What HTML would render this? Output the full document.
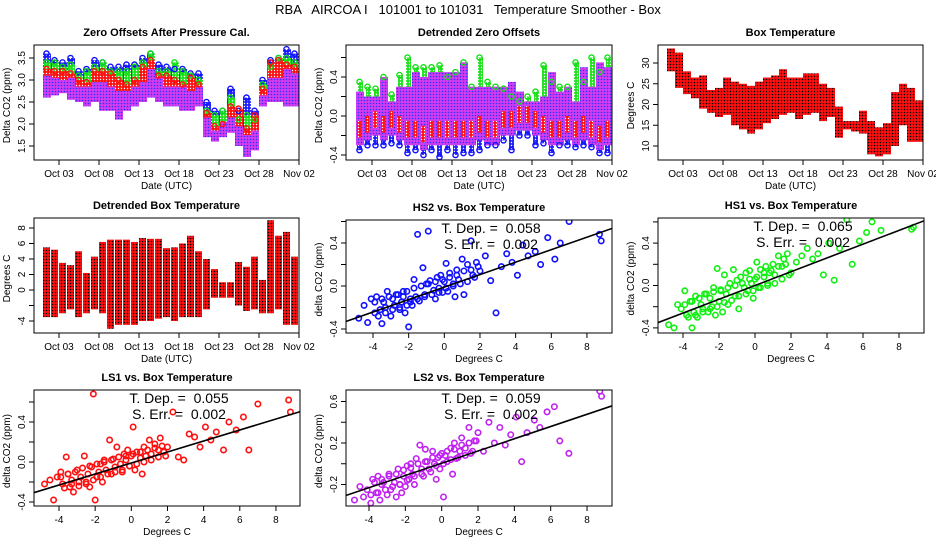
<!DOCTYPE html>
<html><head><meta charset="utf-8"><style>
html,body{margin:0;padding:0;background:#fff;}
svg{display:block;font-family:"Liberation Sans",sans-serif;}
svg text{white-space:pre;}
.t{font-size:11px;font-weight:bold;}
.a{font-size:10px;}
</style></head><body>
<svg id="c" width="936" height="540" viewBox="0 0 936 540">
<defs>
<pattern id="pp" width="3" height="3" patternUnits="userSpaceOnUse"><rect width="3" height="3" fill="#d33cf0"/><circle cx="1.5" cy="1.5" r="0.8" fill="#3030ff"/></pattern>
<pattern id="pb" width="3" height="3" patternUnits="userSpaceOnUse"><rect width="3" height="3" fill="#2020ff"/><circle cx="1.5" cy="1.5" r="0.7" fill="#fff"/></pattern>
<pattern id="pg" width="3" height="3" patternUnits="userSpaceOnUse"><rect width="3" height="3" fill="#20e020"/><circle cx="1.5" cy="1.5" r="0.7" fill="#fff"/></pattern>
<pattern id="pr" width="3" height="3" patternUnits="userSpaceOnUse"><rect width="3" height="3" fill="#ff1010"/><circle cx="1.5" cy="1.5" r="0.7" fill="#fff"/></pattern>
<pattern id="pt" width="3" height="3" patternUnits="userSpaceOnUse"><rect width="3" height="3" fill="#ff1010"/><circle cx="1.5" cy="1.5" r="0.8" fill="#000"/></pattern>
</defs>
<text x="468" y="14" text-anchor="middle" font-size="13">RBA   AIRCOA I   101001 to 101031   Temperature Smoother - Box</text>
</svg>
<script>
// ---- data ----
const timeTicks = ["Oct 03","Oct 08","Oct 13","Oct 18","Oct 23","Oct 28","Nov 02"];
const zoPurpleLo = [2.6,2.65,2.7,2.55,2.5,2.4,2.5,2.3,2.3,2.1,2.3,2.4,2.5,2.6,2.5,2.4,2.4,2.3,2.3,2.4,1.7,1.6,1.7,1.8,1.5,1.25,1.4,2.4,2.5,2.5,2.4,2.4];
const zoPurpleHi = [3.25,3.2,3.15,3.2,3.0,3.0,3.1,3.1,3.0,2.9,2.9,3.0,3.1,3.4,3.2,3.0,3.0,3.0,2.9,3.0,2.3,2.0,2.2,2.3,2.1,1.9,2.0,2.8,3.2,3.2,3.4,3.3];
const zoBlueHi = [3.6,3.45,3.4,3.5,3.2,3.25,3.45,3.4,3.3,3.3,3.35,3.35,3.5,3.6,3.35,3.3,3.25,3.25,3.15,3.15,2.5,2.3,2.3,2.8,2.3,2.6,2.3,3.0,3.45,3.5,3.7,3.6];
const zoGreenHi = [3.4,3.4,3.3,3.35,3.1,3.2,3.3,3.4,3.2,3.2,3.2,3.3,3.4,3.6,3.2,3.2,3.4,3.2,3.1,3.0,2.3,2.2,2.3,2.6,2.1,2.2,2.1,2.9,3.3,3.5,3.5,3.4];
const zoRedHi = [3.25,3.2,3.2,3.15,3.0,2.95,3.2,3.2,3.15,3.0,2.9,3.0,3.3,3.45,3.1,3.1,3.0,2.9,3.05,2.9,2.25,1.95,2.0,2.4,2.35,1.9,2.2,2.8,3.4,3.45,3.35,3.3];
const dzLo = [-0.3,-0.25,-0.2,-0.25,-0.2,-0.25,-0.3,-0.3,-0.35,-0.3,-0.3,-0.3,-0.3,-0.3,-0.3,-0.25,-0.3,-0.3,-0.2,-0.2,-0.15,-0.15,-0.2,-0.25,-0.3,-0.3,-0.25,-0.3,-0.25,-0.3,-0.35,-0.3];
const dzHi = [0.25,0.2,0.2,0.4,0.15,0.3,0.3,0.45,0.4,0.45,0.45,0.45,0.45,0.55,0.3,0.3,0.3,0.3,0.3,0.35,0.25,0.15,0.15,0.2,0.45,0.25,0.3,0.15,0.5,0.3,0.55,0.5];
const dzGreenExt = [0.35,0.3,0.28,0.4,0.22,0.42,0.6,0.5,0.5,0.5,0.52,0.4,0.45,0.55,0.3,0.6,0.35,0.3,0.28,0.2,0.15,0.2,0.25,0.52,0.35,0.3,0.3,0.55,0.35,0.6,0.45,0.6];
const dzBlueLow = [-0.35,-0.3,-0.3,-0.3,-0.28,-0.3,-0.38,-0.35,-0.4,-0.35,-0.42,-0.35,-0.4,-0.38,-0.38,-0.35,-0.3,-0.3,-0.25,-0.35,-0.2,-0.2,-0.3,-0.28,-0.38,-0.3,-0.3,-0.32,-0.3,-0.32,-0.38,-0.38];
const btLo = [28,24,22.5,21.5,19,18,17,17.5,15,14,13,14,15.5,16.5,17.5,18,16.5,17.5,18,16,17,12,14,13.5,13,8,7.5,8,10,15,11,11];
const btHi = [33.5,32.5,28,26.5,27,23.5,24,26.5,25.5,25,24.5,25.5,26.5,27,28.5,26.5,26.5,27.5,27.5,25,24,19.5,16,16,18.5,16,14.5,15.5,23,25,24,21];
const dbLo = [-3.5,-3.5,-3,-2.5,-3.5,-3,-2.5,-3,-5,-4.5,-4.5,-4.5,-4,-4,-3.7,-3.5,-4,-3.5,-3.5,-3.5,-2.5,-1,-1,-1,-2,-2.7,-2.5,-3,-3,-2.5,-4.5,-4.5];
const dbHi = [5.5,5.2,3.5,3.2,5,2.2,4.3,6.2,6.5,6.5,6.5,6.2,6.7,6.6,6.6,5.4,5.5,6,7,5,4,2.7,1,1,3.6,3,4.3,1.3,9,7,7.5,4.3];
const temps = [-4.8,-4.5,-4.3,-4.1,-3.9,-3.8,-3.6,-3.5,-3.4,-3.3,-3.2,-3.0,-2.9,-2.8,-2.6,-2.5,-2.4,-2.3,-2.2,-2.1,-2.0,-1.9,-1.8,-1.7,-1.6,-1.5,-1.4,-1.2,-1.1,-1.0,-0.9,-0.8,-0.6,-0.5,-0.4,-0.3,-0.2,-0.1,0.0,0.1,0.2,0.3,0.5,0.6,0.7,0.8,1.0,1.1,1.3,1.5,1.6,1.8,2.0,2.3,2.6,2.9,3.2,3.5,3.8,4.1,4.4,4.7,5.1,5.4,5.8,6.2,6.5,7.0,8.7,8.8];
const tempsB = [-3.9,-3.7,-3.5,-3.3,-3.1,-2.9,-2.7,-2.5,-2.3,-2.1,-1.9,-1.7,-1.5,-1.3,-1.1,-0.9,-0.7,-0.5,-0.3,-0.1,0.1,0.3,0.5,0.7,0.9,1.1,1.3,1.5,1.7,1.9];
const hs2 = [-0.30,-0.18,-0.34,-0.12,-0.25,-0.10,-0.22,-0.35,-0.15,-0.20,-0.05,-0.28,-0.12,-0.18,-0.08,-0.22,-0.15,-0.10,-0.25,-0.05,-0.38,-0.12,-0.18,0.06,-0.10,0.48,-0.14,0.17,-0.08,0.02,0.51,0.05,-0.04,-0.12,0.08,-0.02,0.10,-0.06,0.04,0.21,-0.05,0.12,0.02,-0.10,0.15,0.06,0.25,-0.08,0.20,0.42,0.10,0.22,0.14,0.28,0.05,-0.25,0.18,0.30,0.22,0.10,0.38,0.28,0.32,0.20,0.45,0.25,0.40,0.60,0.48,0.42];
const hs2B = [-0.15,-0.28,-0.12,-0.25,-0.10,-0.22,-0.08,-0.20,-0.05,-0.18,-0.15,-0.02,-0.12,0.00,-0.10,0.02,-0.08,0.04,-0.06,0.06,-0.02,0.08,0.00,0.10,0.02,0.14,0.04,0.15,0.08,0.18];
const hs1 = [-0.37,-0.40,-0.18,-0.22,-0.05,-0.28,-0.15,-0.40,-0.25,-0.10,-0.30,-0.18,-0.22,-0.08,-0.25,-0.12,-0.20,-0.02,-0.28,0.16,-0.15,-0.05,-0.25,0.10,-0.08,-0.18,0.02,0.15,-0.10,0.05,-0.22,0.08,-0.02,0.12,-0.05,0.14,0.02,-0.12,0.06,0.22,-0.02,0.15,0.08,0.18,0.02,0.12,0.20,0.10,0.28,0.18,0.25,0.30,0.12,0.22,0.28,0.35,0.25,0.30,0.10,0.40,0.05,0.35,0.62,0.20,0.42,0.50,0.60,0.52,0.53,0.55];
const hs1B = [-0.18,-0.30,-0.15,-0.28,-0.12,-0.25,-0.08,-0.22,-0.06,-0.20,-0.04,-0.16,-0.02,-0.14,0.00,-0.10,0.02,-0.08,0.06,-0.05,0.08,-0.02,0.12,0.00,0.14,0.02,0.18,0.06,0.20,0.10];
const ls1 = [-0.22,-0.18,-0.38,-0.15,-0.10,-0.22,0.05,-0.12,-0.25,-0.18,-0.30,-0.08,-0.20,-0.15,0.06,-0.22,-0.12,-0.25,-0.05,0.68,-0.38,-0.15,-0.10,-0.02,-0.20,0.02,-0.08,0.22,-0.12,0.03,-0.05,0.15,-0.02,-0.10,0.08,0.02,0.12,-0.04,0.06,0.35,-0.08,0.10,0.04,-0.12,0.15,0.06,0.22,0.08,0.18,0.12,0.24,0.10,0.15,0.50,0.05,0.02,0.28,0.25,0.15,0.35,0.22,0.30,0.12,0.40,0.32,0.45,0.12,0.58,0.62,0.50];
const ls1B = [-0.15,-0.26,-0.12,-0.22,-0.10,-0.24,-0.06,-0.20,-0.04,-0.18,-0.02,-0.15,0.00,-0.12,0.02,-0.10,0.05,-0.08,0.06,-0.04,0.08,-0.02,0.10,0.00,0.12,0.02,0.14,0.05,0.16,0.06];
const ls2 = [-0.35,-0.22,-0.32,-0.25,-0.38,-0.15,-0.28,-0.12,-0.35,-0.20,-0.18,-0.30,-0.10,-0.25,-0.18,-0.32,-0.05,-0.20,-0.28,-0.12,-0.22,-0.02,-0.15,0.00,-0.10,-0.20,0.05,0.18,-0.05,-0.12,0.14,0.02,-0.08,0.12,0.00,-0.15,0.06,-0.05,0.10,-0.32,0.08,0.02,0.15,-0.10,0.20,0.05,0.12,0.25,0.15,0.35,0.10,0.22,0.30,0.12,0.40,0.20,0.35,0.18,0.28,0.45,0.02,0.30,0.42,0.35,0.50,0.55,0.22,0.10,0.70,0.65];
const ls2B = [-0.30,-0.18,-0.28,-0.15,-0.25,-0.12,-0.22,-0.10,-0.20,-0.06,-0.16,-0.04,-0.12,0.00,-0.10,0.02,-0.05,0.06,-0.02,0.08,0.00,0.12,0.04,0.14,0.06,0.18,0.08,0.20,0.12,0.22];
const tempDeps = ["0.058","0.065","0.055","0.059"];
const stdErrs = ["0.002","0.002","0.002","0.002"];
const slopes = [0.058,0.065,0.055,0.059];
const intercepts = [-0.01,0.0,-0.01,0.005];
const scatterTicks = [-4,-2,0,2,4,6,8];

// ---- drawing ----
const svg = document.getElementById('c');
const NS = 'http://www.w3.org/2000/svg';
function mk(tag, attrs, parent){const e=document.createElementNS(NS,tag);for(const k in attrs)e.setAttribute(k,attrs[k]);(parent||svg).appendChild(e);return e;}
function txt(x,y,s,cls,anchor,rot,parent){const e=mk('text',{x:x,y:y,'text-anchor':anchor||'middle',class:cls||'a'},parent);if(rot)e.setAttribute('transform','rotate(-90 '+x+' '+y+')');e.textContent=s;return e;}

function frame(p){
  const g=mk('g',{});
  
  
  const pl=mk('g',{},g);
  
  
  const cp='cp'+Math.round(p.x0)+'_'+Math.round(p.y0);
  const cl=mk('clipPath',{id:cp},svg);mk('rect',{x:p.x0,y:p.y0,width:p.x1-p.x0,height:p.y1-p.y0},cl);
  pl.setAttribute('clip-path','url(#'+cp+')');
  const r=mk('rect',{x:p.x0,y:p.y0,width:p.x1-p.x0,height:p.y1-p.y0,fill:'none',stroke:'#000','stroke-width':1},g);
  
  
  const t=txt((p.x0+p.x1)/2,p.y0-9,p.title,'t','middle',false,g);
  
  
  const xl=txt((p.x0+p.x1)/2,p.y1+29,p.xlab,'a','middle',false,g);
  
  
  const yl=txt(p.x0-24,(p.y0+p.y1)/2+3,p.ylab,'a','middle',true,g);
  
  
  p.xt.forEach(function(t){const x=p.fx(t.v);
    mk('line',{x1:x,x2:x,y1:p.y1,y2:p.y1+5,stroke:'#000'},g);
    const l=txt(x,p.y1+17,t.l,'a','middle',false,g);
    
    });
  p.yt.forEach(function(t){const y=p.fy(t.v);
    mk('line',{x1:p.x0-5,x2:p.x0,y1:y,y2:y,stroke:'#000'},g);
    if(t.l){const l=txt(p.x0-9,y,t.l,'a','middle',true,g);
    
    }});
  return pl;
}
function fmt(v,d){return v.toFixed(d);}
function timeXt(){return timeTicks.map(function(l,i){return {v:3+5*i,l:l};});}
function dayX(x0,d){return x0+(d-1)*8;}
function bands(g,fx,fy,lo,hi,fill,name,off,w){
  lo.forEach(function(v,i){const x=fx(i+1)+(off||0);const ya=fy(hi[i]),yb=fy(v);
    const r=mk('rect',{x:x,y:Math.min(ya,yb),width:w||6,height:Math.abs(yb-ya),fill:fill,stroke:'none'},g);
    
    });
}
function rings(g,fx,fy,vals,color,name){
  vals.forEach(function(v,i){const c=mk('circle',{cx:fx(i+1)+3.5,cy:fy(v),r:2.6,fill:'none',stroke:color,'stroke-width':1.4},g);
    
    });
}

// Panel 1
(function(){
  const fx=function(d){return dayX(43,d);}; const fy=function(v){return 58+(3.5-v)*44;};
  const p={name:'zero-offsets-panel',x0:34,x1:299,y0:45,y1:160,title:'Zero Offsets After Pressure Cal.',xlab:'Date (UTC)',ylab:'Delta CO2 (ppm)',fx:fx,fy:fy,
    xt:timeXt(),yt:[1.5,2,2.5,3,3.5].map(function(v){return {v:v,l:fmt(v,1)};})};
  const g=frame(p);
  bands(g,fx,fy,zoPurpleLo.map(function(v){return v+0.3;}),zoBlueHi,'url(#pb)','hs2-band',0,8);
  bands(g,fx,fy,zoPurpleLo.map(function(v){return v+0.3;}),zoGreenHi,'url(#pg)','hs1-band',1,7);
  bands(g,fx,fy,zoPurpleLo.map(function(v){return v+0.2;}),zoRedHi,'url(#pr)','ls1-band',0,8);
  rings(g,fx,fy,zoBlueHi,'#1010ff','hs2-peak');
  rings(g,fx,fy,zoGreenHi,'#10e010','hs1-peak');
  bands(g,fx,fy,zoPurpleLo,zoPurpleHi.map(function(v){return v-0.15;}),'url(#pp)','ls2-band',0,8);
  rings(g,fx,fy,zoRedHi,'#ff1010','ls1-peak');
})();
// Panel 2
(function(){
  const fx=function(d){return dayX(356,d);}; const fy=function(v){return 116-v*97.5;};
  const p={name:'detrended-zero-offsets-panel',x0:346,x1:612,y0:45,y1:160,title:'Detrended Zero Offsets',xlab:'Date (UTC)',ylab:'Delta CO2 (ppm)',fx:fx,fy:fy,
    xt:timeXt(),yt:[-0.4,-0.2,0,0.2,0.4,0.6].map(function(v,i){return {v:v,l:(i%2===0?fmt(v,1):'')};})};
  const g=frame(p);
  bands(g,fx,fy,dzBlueLow,dzLo.map(function(v){return v+0.1;}),'url(#pb)','hs2-band',1,5);
  bands(g,fx,fy,dzHi.map(function(v){return v-0.1;}),dzGreenExt,'url(#pg)','hs1-band',2,5);
  bands(g,fx,fy,dzLo,dzHi,'url(#pp)','ls2-band',0,8);
  bands(g,fx,fy,dzLo.map(function(v){return v+0.08;}),dzLo.map(function(v){return v+0.25;}),'url(#pr)','ls1-band',1,4);
  rings(g,fx,fy,dzGreenExt,'#10e010','hs1-extreme');
  rings(g,fx,fy,dzBlueLow,'#1010ff','hs2-extreme');
})();
// Panel 3
(function(){
  const fx=function(d){return dayX(667,d);}; const fy=function(v){return 63+(30-v)*4.15;};
  const p={name:'box-temperature-panel',x0:658,x1:923,y0:45,y1:160,title:'Box Temperature',xlab:'Date (UTC)',ylab:'Degrees C',fx:fx,fy:fy,
    xt:timeXt(),yt:[10,15,20,25,30].map(function(v){return {v:v,l:String(v)};})};
  const g=frame(p);
  bands(g,fx,fy,btLo,btHi,'url(#pt)','box-temp-band',0,8);
})();
// Panel 4
(function(){
  const fx=function(d){return dayX(43,d);}; const fy=function(v){return 290-v*7.75;};
  const p={name:'detrended-box-temperature-panel',x0:34,x1:299,y0:218,y1:333,title:'Detrended Box Temperature',xlab:'Date (UTC)',ylab:'Degrees C',fx:fx,fy:fy,
    xt:timeXt(),yt:[-4,-2,0,2,4,6,8].map(function(v){return {v:v,l:(v===-2?'':String(v))};})};
  const g=frame(p);
  bands(g,fx,fy,dbLo,dbHi,'url(#pt)','detrended-temp-band',0,7);
})();
// Scatter panels
const allTemps = temps.concat(tempsB);
const sc=[
 {name:'hs2-scatter-panel',title:'HS2 vs. Box Temperature',ys:hs2.concat(hs2B),color:'#1010ff',x0:346,x1:612,y0:220,y1:333,xm4:373,xs:17.83,fy:function(v){return 286-v*107.5;},yt:[-0.4,-0.2,0,0.2,0.4,0.6],lab:[0,2,4]},
 {name:'hs1-scatter-panel',title:'HS1 vs. Box Temperature',ys:hs1.concat(hs1B),color:'#10f010',x0:658,x1:924,y0:218,y1:333,xm4:683,xs:18,fy:function(v){return 285.5-v*106;},yt:[-0.4,-0.2,0,0.2,0.4,0.6],lab:[0,2,4]},
 {name:'ls1-scatter-panel',title:'LS1 vs. Box Temperature',ys:ls1.concat(ls1B),color:'#ff1010',x0:34,x1:300,y0:390,y1:506,xm4:59,xs:18.08,fy:function(v){return 462-v*100;},yt:[-0.4,-0.2,0,0.2,0.4,0.6],lab:[0,2,4]},
 {name:'ls2-scatter-panel',title:'LS2 vs. Box Temperature',ys:ls2.concat(ls2B),color:'#c020f0',x0:346,x1:612,y0:390,y1:506,xm4:369,xs:18.17,fy:function(v){return 443-(v-0.2)*103.75;},yt:[-0.2,0,0.2,0.4,0.6],lab:[0,2,4]}
];
sc.forEach(function(s,k){
  const fx=function(v){return s.xm4+(v+4)*s.xs;};
  const p={name:s.name,x0:s.x0,x1:s.x1,y0:s.y0,y1:s.y1,title:s.title,xlab:'Degrees C',ylab:'delta CO2 (ppm)',fx:fx,fy:s.fy,
    xt:scatterTicks.map(function(v){return {v:v,l:String(v)};}),
    yt:s.yt.map(function(v,i){return {v:v,l:(s.lab.indexOf(i)>=0?fmt(v,1):'')};})};
  const g=frame(p);
  allTemps.forEach(function(t,i){
    const c=mk('circle',{cx:fx(t),cy:s.fy(s.ys[i]),r:2.7,fill:'none',stroke:s.color,'stroke-width':1.6},g);
    
    
  });
  const xa=-5.5, xb=9.5;
  const ln=mk('line',{x1:fx(xa),y1:s.fy(intercepts[k]+slopes[k]*xa),x2:fx(xb),y2:s.fy(intercepts[k]+slopes[k]*xb),stroke:'#000','stroke-width':1.6},g);
  
  
  const cx=(s.x0+s.x1)/2+12;
  const t1=mk('text',{x:cx,y:s.y0+13,'text-anchor':'middle','font-size':'14'},svg);
  t1.textContent='T. Dep. =  '+tempDeps[k];
  
  
  const t2=mk('text',{x:cx,y:s.y0+29,'text-anchor':'middle','font-size':'14'},svg);
  t2.textContent='S. Err. =  '+stdErrs[k];
  
  
});
</script>
</body></html>
